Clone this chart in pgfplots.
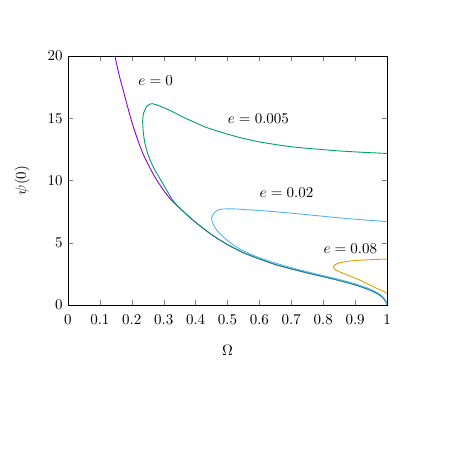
\documentclass[border=0pt]{standalone}
\usepackage{pgfplots}
\pgfplotsset{compat=1.18}

\definecolor{gpPurple}{HTML}{9400D3}
\definecolor{gpGreen}{HTML}{009E73}
\definecolor{gpBlue}{HTML}{56B4E9}
\definecolor{gpOrange}{HTML}{E69F00}

\begin{document}
\begin{tikzpicture}
  \begin{axis}[
    scale only axis,
    width=212.67pt, height=166pt,
    xmin=0, xmax=1, ymin=0, ymax=20,
    xtick={0,0.1,...,1.01},
    ytick={0,5,10,15,20},
    tick align=inside,
    major tick length=3.3pt,
    axis line style={line width=0.5pt},
    xticklabel style={yshift=-3pt},
    xlabel={$\Omega$},
    ylabel={$\psi(0)$},
    x label style={at={(axis description cs:0.5,-0.181)}, anchor=center},
    y label style={at={(axis description cs:-0.144,0.5)}, anchor=center, rotate=0},
    every axis plot/.append style={line width=0.6pt, mark=none, smooth, tension=0.45},
    clip=true,
  ]
    % e = 0
    \addplot[gpPurple] coordinates {
      (0.147,20) (0.160,18.5) (0.173,17.25) (0.186,16.0) (0.200,14.7)
      (0.218,13.3) (0.236,12.1) (0.257,11.0) (0.278,10.05) (0.300,9.2)
      (0.325,8.4) (0.351,7.77) (0.380,7.08) (0.414,6.35) (0.456,5.55)
      (0.500,4.85) (0.550,4.20) (0.600,3.70) (0.650,3.25) (0.700,2.90)
      (0.750,2.58) (0.800,2.28) (0.850,1.97) (0.900,1.62) (0.940,1.27)
      (0.965,0.98) (0.980,0.74) (0.990,0.50) (0.997,0.22) (1.000,0.0)
    };
    % e = 0.005
    \addplot[gpGreen] coordinates {
      (1.000,0.0) (0.997,0.22) (0.990,0.50) (0.980,0.74) (0.965,0.98)
      (0.940,1.27) (0.900,1.62) (0.850,1.97) (0.800,2.28) (0.750,2.58)
      (0.700,2.90) (0.650,3.25) (0.600,3.70) (0.550,4.20) (0.500,4.85)
      (0.456,5.55) (0.414,6.35) (0.380,7.08) (0.351,7.77)
      (0.328,8.43) (0.309,9.24) (0.287,10.2) (0.267,11.1) (0.252,12.0)
      (0.241,12.99) (0.236,13.9) (0.234,14.72) (0.236,15.3) (0.241,15.66)
      (0.248,16.0) (0.257,16.14) (0.265,16.17) (0.280,16.05) (0.300,15.85)
      (0.330,15.5) (0.360,15.1) (0.390,14.75) (0.435,14.25) (0.490,13.8)
      (0.539,13.45) (0.600,13.1) (0.696,12.72) (0.780,12.52) (0.853,12.37)
      (0.920,12.27) (1.000,12.17)
    };
    % e = 0.02
    \addplot[gpBlue] coordinates {
      (1.000,0.0) (0.997,0.28) (0.990,0.57) (0.980,0.82) (0.965,1.06)
      (0.940,1.35) (0.900,1.70) (0.850,2.05) (0.800,2.36) (0.750,2.67)
      (0.700,3.00) (0.654,3.34) (0.623,3.60)
      (0.591,3.88) (0.550,4.35) (0.518,4.82) (0.490,5.40) (0.466,6.02)
      (0.455,6.50) (0.450,6.96) (0.458,7.40) (0.472,7.65) (0.487,7.71)
      (0.520,7.72) (0.560,7.65) (0.623,7.55) (0.690,7.40) (0.759,7.23)
      (0.850,7.00) (0.920,6.85) (1.000,6.70)
    };
    % e = 0.08
    \addplot[gpOrange] coordinates {
      (1.000,0.90) (0.990,1.10) (0.968,1.33) (0.915,2.00) (0.863,2.54)
      (0.840,2.80) (0.832,3.03) (0.838,3.25) (0.853,3.40) (0.875,3.50)
      (0.894,3.56) (0.940,3.63) (1.000,3.69)
    };
    \node[anchor=west, inner sep=0pt] at (axis cs:0.22,18) {$e=0$};
    \node[anchor=west, inner sep=0pt] at (axis cs:0.50,15) {$e=0.005$};
    \node[anchor=west, inner sep=0pt] at (axis cs:0.60,9) {$e=0.02$};
    \node[anchor=west, inner sep=0pt] at (axis cs:0.80,4.5) {$e=0.08$};
  \end{axis}
  \pgfresetboundingbox
  \path (current axis.south west) ++(-45.33pt,-106pt) coordinate (bbA);
  \path (current axis.north east) ++(51.33pt,37.33pt) coordinate (bbB);
  \path[use as bounding box] (bbA) rectangle (bbB);
\end{tikzpicture}
\end{document}
